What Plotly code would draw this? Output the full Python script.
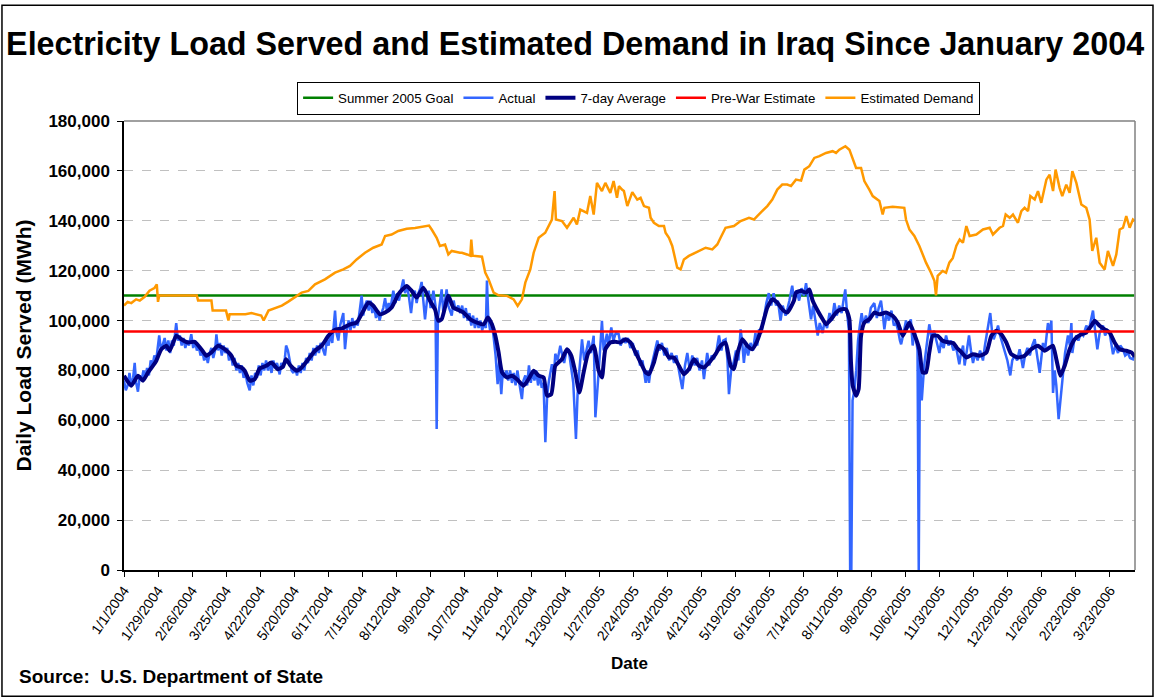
import pandas as pd
import plotly.graph_objects as go

START = pd.Timestamp("2004-01-01")

# ---- Data (day offset from 1/1/2004, values in thousand MWh) ----
demand_day = [0, 3, 6, 10, 13, 17, 21, 25, 27, 28, 29, 60, 61, 72, 73, 84, 86, 87, 100, 105, 113, 115,
              119, 124, 130, 135, 138.1, 146.3, 151.8, 157.3, 165.5, 173.8, 180.6, 186.1, 191.6, 198.5,
              205.3, 212.2, 215, 220.4, 225.9, 232.8, 239.7, 247.9, 251.2, 253.4, 257.5, 260.2, 264.4,
              267.1, 269.9, 276.7, 278.3, 282.5, 285.2, 286, 287.1, 294.8, 297.5, 300.3, 304.4, 308.5,
              315.4, 320.9, 324.2, 327.7, 330.5, 334.6, 337.4, 341.5, 346.9, 352.4, 354.6, 355.7, 360.7,
              364.8, 370.3, 373, 375.8, 381.3, 384, 386.8, 389.5, 393.6, 396.4, 400.5, 403.2, 406,
              407.6, 410.1, 411.7, 414.5, 418.6, 422.7, 425.4, 428.2, 432.3, 433.7, 436.4, 440.5, 444.7,
              446, 448.8, 451.5, 454.3, 455.6, 458.4, 461.1, 465.2, 470.7, 474.9, 479, 484.5, 488.6,
              491.3, 495.4, 502.3, 507.8, 514.7, 518.8, 521.5, 525.6, 529.8, 533.9, 538, 542.1, 546.2,
              549.3, 553.4, 557.6, 560.3, 564.4, 568.5, 572.7, 578.1, 583.6, 586.4, 589.1, 594.1, 597.4,
              600.1, 602.9, 607, 609.7, 613.8, 616.6, 622.1, 624.8, 626.2, 633, 642.6, 644, 646.8, 650.9,
              655, 657.7, 660.5, 664.6, 667.4, 668.7, 670.1, 674.2, 677, 679.7, 682.5, 685.5, 688.2,
              690.9, 693.7, 696.4, 701.9, 707.4, 712.9, 715.6, 721.1, 723.9, 726.1, 729.4, 732.1, 736.2,
              739, 741.7, 744.5, 746.4, 750, 752.7, 755.4, 759.6, 762.3, 765.1, 767.2, 770.5, 772.7, 776,
              778.8, 781, 784.3, 788.4, 792.5, 795.2, 797.4, 800.7, 803.5, 807.6, 810.3, 814.5, 817.2,
              820, 822.7, 825.4, 828.2, 830.9, 832.3]
demand_kmwh = [106, 107.5, 107, 108.5, 108, 109.5, 112, 113, 114.5, 107.5, 110, 110, 108, 108, 104, 104,
               100, 102.5, 102.5, 103, 102, 100, 104, 105, 106, 107.5, 108.5, 111.2, 111.9, 114.5, 116.5,
               119.2, 120.5, 121.9, 124.5, 127.2, 129.2, 130.5, 133.9, 134.5, 135.9, 136.8, 137.1, 137.6,
               138.1, 136.5, 133.2, 129.9, 130.5, 126.5, 127.9, 127.2, 127.2, 126.5, 126, 132.5, 126,
               125.6, 119.2, 116.5, 111.2, 110.1, 109.9, 108.5, 105.9, 108.5, 115.2, 120.5, 127.2, 133.2,
               135.2, 140.5, 151.9, 140.5, 139.9, 137.2, 141.2, 138.5, 144.5, 143.2, 149.9, 142.5, 155.2,
               151.9, 155.2, 151.2, 155.9, 149.2, 153.9, 152.5, 151.9, 145.9, 151.5, 148.5, 149.2, 145.9,
               145.2, 141.2, 139.2, 137.9, 137.9, 135.2, 133.2, 129.9, 124.5, 121.2, 120.5, 124.5, 125.9,
               127.2, 128.5, 129.2, 128.5, 130.5, 133.2, 137.2, 137.9, 139.9, 141.2, 140.5, 141.9, 143.9,
               145.9, 148.5, 152.5, 154.5, 154.5, 153.9, 156.5, 156.1, 160.5, 161.9, 165.2, 165.9, 167.2,
               167.9, 167.2, 168.5, 169.9, 168.5, 164.5, 161.2, 161.2, 155.9, 152.5, 149.9, 147.9, 142.5,
               145.2, 145.6, 145.2, 140.5, 136.5, 133.9, 129.9, 126.5, 123.2, 119.2, 115.9, 110.1, 117.9,
               119.9, 119.2, 123.2, 125, 130, 132.5, 131.2, 137.9, 133.9, 134.5, 136.5, 137.2, 134.5,
               137.2, 137.9, 142.5, 141.2, 142.5, 139.2, 143.9, 145.2, 143.9, 149.9, 148.5, 151.9, 147.2,
               156.5, 158.5, 151.9, 160.5, 153.2, 149.9, 154.5, 151.2, 159.9, 155.2, 146.5, 145.2, 140.5,
               127.9, 133.2, 123.2, 120.5, 127.9, 121.9, 126.5, 136.5, 137.2, 141.9, 137.2, 140.5, 139.9]

avg_day = [0, 6, 11.5, 15.6, 19.8, 23.9, 26.6, 30.7, 34.9, 37.6, 43.1, 47.2, 52.7, 58.2, 63.7, 67.8,
           71.9, 77.4, 82.9, 88.4, 92.5, 96.6, 99.4, 103.5, 107.6, 111.7, 117.2, 121.3, 126.8, 130.9,
           133.5, 137, 142.2, 146.3, 151.8, 157.3, 162.8, 168.3, 173.8, 179.3, 186.1, 191.6, 197.1,
           201.2, 205.3, 210.8, 215, 220.4, 225.9, 232.8, 236.9, 241, 246.5, 252, 256.1, 258.9, 261.6,
           267.1, 271.2, 274.2, 279.7, 285.2, 290.7, 296.2, 299.7, 303, 305.8, 308.5, 311.3, 315.4,
           319.5, 323.6, 329.1, 333.2, 337.4, 341.5, 345.6, 348.3, 351.9, 355.2, 360.7, 364.8, 368.4,
           371.7, 375, 378.5, 382.1, 386.8, 390.9, 393.6, 396.4, 400.5, 404.6, 408.7, 413.1, 417.2,
           421.3, 425.4, 429.6, 432.3, 436.4, 440.5, 444.7, 448.8, 452.9, 457, 461.1, 465.2, 469.4,
           473.5, 477.6, 483.1, 487.2, 491.3, 495.4, 499.6, 502.3, 505, 509.2, 513.3, 517.4, 521.5,
           525.6, 529.8, 533.9, 538, 542.1, 546.2, 551.7, 553.4, 557.6, 561.7, 564.4, 567.2, 571.3,
           575.4, 578.1, 582.3, 586.4, 590.5, 594.6, 597.4, 598.7, 600.1, 602.9, 605, 607, 609.7, 613.8,
           617.9, 622.1, 627.5, 633, 637.2, 641.3, 644, 646.8, 650.9, 655, 657.7, 660.5, 663.2, 666,
           670.1, 674.2, 679.7, 683, 686, 689.3, 693.7, 699.2, 704.7, 710.2, 714.3, 718.4, 722.5,
           726.6, 730.7, 736.2, 741.7, 747.2, 752.7, 758.2, 762.3, 765.1, 767.8, 771.1, 774.7, 778.8,
           782.9, 788.4, 792.5, 796.6, 799.4, 803.5, 807.6, 811.7, 815.8, 819.9, 825.4, 829.6, 832.3]
avg_kmwh = [77.9, 73.9, 77.9, 75.9, 79.2, 81.9, 83.9, 88.5, 89.9, 87.9, 93.9, 92.5, 91.2, 91.5, 88.5,
            85.9, 87.2, 89.9, 88.5, 85.9, 81.9, 81.2, 79.9, 75.9, 76.5, 80.8, 81.9, 83.2, 80.5, 81.5,
            84.5, 82, 79.9, 81.2, 84.5, 87.9, 89.9, 93.9, 96.3, 96.8, 98.5, 99.2, 103.9, 107.2, 105.9,
            102.5, 103.2, 105.2, 110.5, 113.9, 111.9, 109.2, 113.2, 107.9, 104.5, 99.9, 100.5, 109.9,
            105.2, 104.5, 103.2, 100.5, 99.2, 98.5, 101.2, 98.5, 93.9, 87.2, 79.2, 77.2, 77.9, 76.5,
            73.9, 76.5, 79.9, 77.9, 77.2, 69.9, 70.5, 81.9, 84.5, 88.5, 85.9, 79.2, 71.2, 79.2, 86.7,
            89.9, 79.9, 77.2, 88.5, 91.2, 91.5, 91.2, 92.5, 91.2, 87.2, 83.2, 79.2, 78.5, 83.2, 89.9,
            88.5, 85.2, 85.2, 81.9, 78.5, 80.5, 84.5, 81.9, 81.2, 83.9, 86.5, 89.9, 91.2, 81.9, 80.5,
            86.5, 92.5, 89.9, 88.5, 91.9, 97.9, 105.2, 108.5, 107.2, 104.5, 103.2, 107.9, 111.2, 111.9,
            111.2, 112.5, 107.9, 103.9, 100.5, 98.5, 100.5, 103.2, 104.5, 104.5, 100.5, 83.2, 73.9,
            69.9, 72.5, 93.9, 99.2, 100.5, 103.2, 102.5, 103.2, 101.9, 99.2, 93.9, 96.5, 99.2, 94.5,
            88.5, 79.2, 79.2, 87.2, 93.9, 93.9, 91.9, 91.2, 91, 89, 87.5, 85.2, 86.5, 85.9, 87.2, 93.9,
            95.9, 94.5, 91.2, 86.5, 85.2, 85.9, 88.5, 89.9, 87.9, 89.2, 89.9, 84.5, 77.9, 81.9, 88.5,
            92.5, 94.5, 95.2, 97.9, 99.9, 97.9, 96.5, 95.2, 91.2, 88.5, 87.9, 87.2, 85.6]

actual_day = [0, 1.5, 3, 4.5, 6, 7.5, 8.8, 10, 11.5, 13, 14.5, 16, 17.5, 19, 20.5, 22, 23.5, 25, 26.5,
              28, 29, 30.5, 32, 33.5, 35, 36.5, 38, 39.5, 41, 43, 44.5, 46, 47.5, 49, 50.5, 52, 53.5,
              55.4, 57, 58.5, 60, 61.5, 63, 64.5, 66, 67.5, 69, 70.5, 72, 73.5, 75, 76.1, 77.5, 79,
              80.5, 82, 83.5, 85, 86.5, 88, 89.5, 91, 92.5, 94, 95.5, 97, 98.5, 100, 101.5, 103.5,
              105, 106.5, 108, 109.5, 111, 112.5, 114, 115.5, 117, 118.5, 120, 121.5, 123, 124.5, 126,
              128.2, 129.5, 131, 132.5, 133.5, 135, 136.5, 138, 139.5, 141, 142.5, 144, 145.5, 147,
              148.5, 150, 151.5, 153, 154.5, 156, 157.5, 159, 160.5, 162, 163.5, 165.5, 167, 168.5,
              170, 171.5, 173.8, 175, 176.5, 178, 180.6, 182, 183.5, 185, 186.5, 188, 189.5, 191,
              192.5, 194, 195.7, 197, 198.5, 200, 201.5, 203, 204.5, 206, 207.5, 209, 210.5, 212,
              213.5, 215, 216.5, 218, 219.5, 221.8, 223.5, 225, 226.5, 228, 230, 231.5, 233, 234.5,
              236.4, 238, 239.5, 241, 242.5, 244, 245.1, 246.5, 247.9, 249.5, 251, 252.5, 254.8, 256.5,
              257.5, 258.5, 260, 261.6, 263, 264.5, 265.7, 267, 268.5, 269.9, 271.5, 273, 275.3, 277,
              278.5, 280, 281.5, 283, 284.5, 286, 287.5, 289, 290.5, 292, 293.5, 295, 296.5, 298,
              298.9, 300, 301.5, 303, 304.5, 306, 307.7, 309, 310.7, 312, 313.5, 315, 316.5, 318,
              319.5, 321, 322.5, 324, 325.5, 327.7, 329, 330.5, 332, 333.5, 335, 336.5, 338, 339.5, 341,
              342.5, 344, 345.5, 347, 348.5, 350, 352.4, 354, 355.2, 357, 359.3, 361, 362.5, 364,
              366.2, 368, 370, 372.2, 373.5, 375, 377.2, 379, 381, 382.6, 384.5, 386.8, 388.2, 389.5,
              391, 392.3, 393.6, 395, 397.7, 399, 401.3, 403, 405, 407.3, 409, 411, 413, 415, 417, 419,
              421, 423, 425, 427, 429.6, 431, 432.3, 434, 436, 437.5, 439.2, 441, 443, 445, 447, 449,
              451, 453, 455, 457, 459.8, 462, 463.9, 466, 468, 470, 472, 474, 476, 477.6, 480.3, 482,
              484, 485.8, 488, 490, 492, 493.5, 495.4, 497, 498.2, 500, 502, 504, 506, 507.8, 509,
              510.5, 512, 514, 516, 518, 520, 521.5, 523, 525, 527, 529, 531, 533, 535, 537, 538.5,
              540.7, 542.5, 544.8, 546.5, 548, 550.3, 552, 554, 556, 558, 560, 561.7, 563.5, 565.8,
              567.5, 569, 571.3, 573, 575.4, 577, 579, 581, 583, 585, 587, 589, 591, 592.5, 594, 595.5,
              597, 598, 599, 600, 601.5, 603, 604.5, 606, 607.5, 609, 611, 613, 615, 617.9, 620, 621.5,
              623.4, 625, 626.2, 628, 630, 632, 634, 635.8, 637.5, 639, 640, 642, 644, 646, 648, 649.5,
              651, 652.5, 653.5, 654.5, 655.5, 657, 659, 661, 663.2, 665, 667, 669, 671.5, 673, 675,
              677, 679, 681, 683, 685, 687.9, 689, 691, 692.3, 694, 695.9, 697.5, 699.2, 701, 703, 705,
              707.4, 709, 711, 713.4, 714.8, 716.2, 718, 719.8, 721.5, 723.9, 725.5, 727.5, 729.9,
              731.5, 733.5, 735.5, 737.6, 740.3, 742, 744, 746, 748, 750, 752, 754.1, 756.8, 758.5,
              760.9, 762.3, 763.7, 765.1, 766.5, 767.8, 769.7, 771.5, 773.3, 775, 777.4, 779, 780.2,
              781, 782.5, 784.3, 786, 788, 790, 792.5, 794.5, 796, 798, 799.5, 801.6, 803.5, 806.2,
              808, 810, 811.7, 813, 814.5, 816.5, 818.6, 820.5, 822.7, 824.5, 826.8, 828.5, 830.9, 832]
actual_kmwh = [76, 72, 74, 79, 74, 77, 83, 75, 71.5, 78, 76, 80, 77, 81, 78, 84, 82, 86, 84, 89, 94,
               88, 91, 93, 88, 92, 87, 92, 90, 99, 92, 94, 90, 93, 89, 92, 90, 94.5, 89, 92, 88, 90, 86,
               88, 84, 87, 83, 87, 89, 85, 88, 94.5, 88, 91, 86, 90, 87, 89, 84, 87, 82, 85, 80, 83, 79,
               82, 77, 79, 75, 72, 78, 74, 79, 77, 82, 78, 83, 80, 84, 80, 83, 79, 84, 81, 83, 78.4, 83,
               81, 85, 90, 88, 84, 80, 79, 81, 78, 82, 79, 83, 80, 85, 83, 87, 84, 89, 86, 90, 87, 91,
               89, 86, 92, 90, 95, 91, 104, 95, 92, 98, 103, 88.5, 96, 100, 96, 101, 97, 100, 98, 104,
               110, 102, 106, 108, 104, 108, 103, 106, 101, 104, 100, 103, 105, 109, 104, 107, 105, 112,
               107, 111, 108, 112, 116.5, 111, 114, 110, 103, 110, 112, 107, 111, 113, 115.5, 108, 100.5,
               108, 112, 105, 112, 106, 56.5, 101, 106, 112.5, 103, 108, 112.5, 106, 104, 102, 108, 104,
               106, 103, 106, 101, 105, 100, 103, 98, 102, 97, 101, 97, 100, 96, 99, 97, 116, 101, 96,
               99, 93, 86, 74.5, 84, 70.5, 80, 77, 80, 76, 80, 75, 79, 74, 80, 75, 68.5, 76, 78, 74, 82,
               75, 80, 76, 80, 74, 78, 73, 75, 51.2, 70, 76, 82.5, 78, 86.7, 84, 89.9, 86, 83, 87, 88.5,
               82, 75, 52.5, 70, 80, 92.5, 84, 88, 91.9, 87, 93.9, 61.2, 72, 80, 90, 99.9, 88, 94.7, 90,
               97.2, 92, 95, 94.7, 90, 93, 91, 93, 89, 91, 86, 88, 82, 84, 75, 80, 75, 81, 85, 88, 92,
               88, 91, 86, 89, 84, 87, 83, 86, 80, 72.5, 82, 87, 80, 86, 82, 85, 80, 84, 76.5, 87, 82,
               86, 84.5, 88, 94, 88, 92, 92.5, 84, 70.5, 80, 83, 88, 84, 96.5, 92, 83, 90, 86, 91, 88,
               95, 90, 96.5, 95, 102, 107, 111, 106, 111, 106, 108, 100, 106, 102, 105, 108, 114, 108,
               112, 108, 113, 110, 115, 108, 100.5, 106, 101, 94, 99, 95, 100, 97, 103, 100, 107, 102,
               106, 103, 108, 112.5, 103, 96, 0, 0, 68, 72, 80, 92, 98, 103, 98, 102, 99, 105, 107, 101,
               105, 108, 102, 96.5, 103, 100, 104, 98, 99, 96, 92, 90.5, 95, 100, 97, 100.5, 90, 96, 92,
               88, 0, 85, 68, 82, 90, 98.5, 93, 96, 92, 87, 92, 89, 94, 90, 92, 88, 90, 82.5, 86, 90, 82,
               88, 94, 88, 83, 87, 84, 88, 84, 90, 96, 103, 96, 92.5, 95, 98, 94, 90, 88, 84, 78, 84, 86,
               84, 88.5, 81, 86, 89, 86, 90, 92.5, 86, 79, 91, 88, 99, 95, 100, 71, 80, 74, 60.5, 70, 79,
               87, 94, 90, 99, 87, 92, 94, 92, 95, 94, 98, 96, 100, 104, 97, 88.5, 95, 98, 94, 96, 95,
               90, 86.5, 90, 87, 90, 88.5, 86, 87, 85, 84.5, 86]

goal_mwh = 110000
prewar_mwh = 95600
line_span_days = [0, 832]
axis_end_day = 832.6

tick_labels = ["1/1/2004", "1/29/2004", "2/26/2004", "3/25/2004", "4/22/2004", "5/20/2004",
               "6/17/2004", "7/15/2004", "8/12/2004", "9/9/2004", "10/7/2004", "11/4/2004",
               "12/2/2004", "12/30/2004", "1/27/2005", "2/24/2005", "3/24/2005", "4/21/2005",
               "5/19/2005", "6/16/2005", "7/14/2005", "8/11/2005", "9/8/2005", "10/6/2005",
               "11/3/2005", "12/1/2005", "12/29/2005", "1/26/2006", "2/23/2006", "3/23/2006"]


def to_dates(days):
    return [START + pd.Timedelta(days=float(d)) for d in days]


def to_mwh(vals):
    return [v * 1000 for v in vals]


FONT = "Arial, 'Liberation Sans', sans-serif"

fig = go.Figure()
span = to_dates(line_span_days)
fig.add_trace(go.Scatter(x=span, y=[goal_mwh, goal_mwh], mode="lines", name="Summer 2005 Goal",
                         line=dict(color="#008000", width=2.5)))
fig.add_trace(go.Scatter(x=to_dates(actual_day), y=to_mwh(actual_kmwh), mode="lines", name="Actual",
                         line=dict(color="#3366FF", width=2.5)))
fig.add_trace(go.Scatter(x=to_dates(avg_day), y=to_mwh(avg_kmwh), mode="lines", name="7-day Average",
                         line=dict(color="#000080", width=4, shape="spline", smoothing=0.5)))
fig.add_trace(go.Scatter(x=span, y=[prewar_mwh, prewar_mwh], mode="lines", name="Pre-War Estimate",
                         line=dict(color="#FF0000", width=2.5)))
fig.add_trace(go.Scatter(x=to_dates(demand_day), y=to_mwh(demand_kmwh), mode="lines",
                         name="Estimated Demand", line=dict(color="#FF9900", width=2.5)))

tick_vals = [pd.to_datetime(t, format="%m/%d/%Y") for t in tick_labels]

fig.update_layout(
    width=1156, height=698,
    margin=dict(l=124, r=21, t=121, b=127.5),
    paper_bgcolor="white", plot_bgcolor="white",
    font=dict(family=FONT, color="black"),
    title=dict(text="<b>Electricity Load Served and Estimated Demand in Iraq Since January 2004</b>",
               x=0.4975, xanchor="center", y=0.937, yanchor="middle", font=dict(size=32.3, color="black")),
    legend=dict(orientation="h", x=0.509, xanchor="center", y=1.0875, yanchor="top",
                bordercolor="black", borderwidth=1, bgcolor="white", font=dict(size=13.3),
                traceorder="normal", tracegroupgap=0),
    xaxis=dict(type="date", range=[START, START + pd.Timedelta(days=axis_end_day)],
               tickmode="array", tickvals=tick_vals, ticktext=tick_labels, tickangle=-55,
               tickfont=dict(size=14), ticks="outside", ticklen=5, tickcolor="black",
               showline=True, linecolor="black", linewidth=1.5, showgrid=False, zeroline=False,
               title=dict(text="<b>Date</b>", font=dict(size=17), standoff=8)),
    yaxis=dict(range=[0, 180000], tickmode="linear", tick0=0, dtick=20000, tickformat=",d",
               tickfont=dict(size=17, weight="bold"), ticks="outside", ticklen=5, tickcolor="black",
               ticklabelstandoff=4,
               showline=True, linecolor="black", linewidth=1.5, showgrid=True, gridcolor="#C0C0C0",
               griddash="dash", gridwidth=1, zeroline=False,
               title=dict(text="<b>Daily Load Served (MWh)</b>", font=dict(size=21), standoff=11)),
    shapes=[
        dict(type="line", xref="paper", yref="paper", x0=0, x1=1, y0=1, y1=1,
             line=dict(color="#808080", width=1.5)),
        dict(type="line", xref="paper", yref="paper", x0=1, x1=1, y0=0, y1=1,
             line=dict(color="#808080", width=1.5)),
        dict(type="rect", xref="paper", yref="paper", x0=-0.1207, x1=1.0178, y0=-0.2814, y1=1.258,
             line=dict(color="black", width=1.5)),
    ],
    annotations=[
        dict(text="<b>Source:&nbsp; U.S. Department of State</b>", xref="paper", yref="paper",
             x=-0.1058, xanchor="left", y=-0.237, yanchor="middle", showarrow=False,
             font=dict(size=19, color="black")),
    ],
)

fig.write_html("out.html", config={"displayModeBar": False},
               post_script="document.body.style.margin='0';")
